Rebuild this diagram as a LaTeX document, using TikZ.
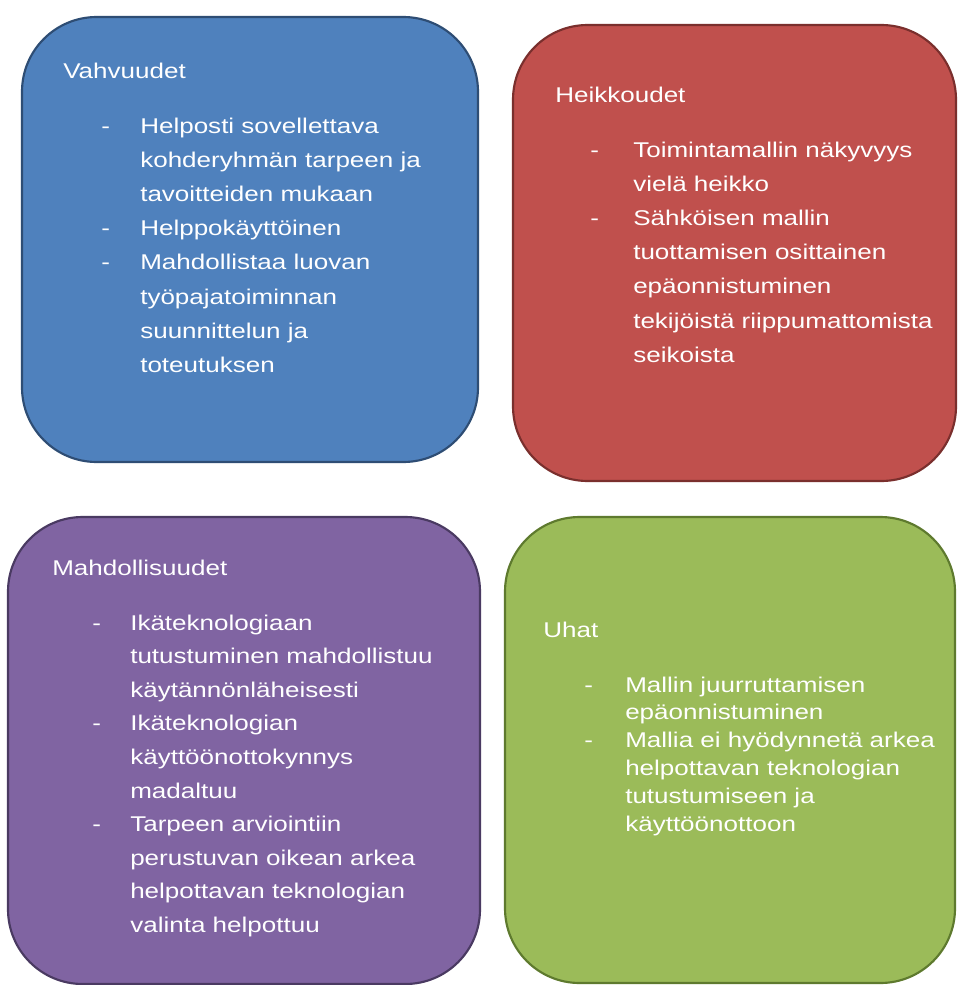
\documentclass[tikz,border=0pt]{standalone}
\usepackage{fontspec}
\setmainfont{Liberation Sans}[FakeStretch=1.22]
\begin{document}
\begin{tikzpicture}[x=0.75pt,y=-0.75pt,
  card/.style={line width=1.6pt, rounded corners=56pt},
  lbl/.style={anchor=base west, inner sep=0pt, text=white, font=\fontsize{16}{19}\selectfont},
]
\definecolor{sBlue}{HTML}{4F81BD}\definecolor{sBlueD}{HTML}{2E4D74}
\definecolor{sRed}{HTML}{C0504D}\definecolor{sRedD}{HTML}{7A2F2D}
\definecolor{sPurple}{HTML}{8064A2}\definecolor{sPurpleD}{HTML}{4A3A62}
\definecolor{sGreen}{HTML}{9BBB59}\definecolor{sGreenD}{HTML}{5E7A2E}
\path[use as bounding box, fill=white] (0,0) rectangle (958,985);

% four quadrant cards
\draw[card, fill=sBlue, draw=sBlueD] (22,17) rectangle (478,462);
\draw[card, fill=sRed, draw=sRedD] (513,25) rectangle (956,481);
\draw[card, fill=sPurple, draw=sPurpleD] (8,517) rectangle (480,984);
\draw[card, fill=sGreen, draw=sGreenD] (505,517) rectangle (955,983);

% Vahvuudet
\node[lbl] (vt) at (63,78) {Vahvuudet};
\foreach \yy in {133,235.6,269.8} \node[lbl] at (101,\yy) {-};
\foreach \yy/\tx [count=\i] in {133/Helposti sovellettava,
    167.2/kohderyhmän tarpeen ja, 201.4/tavoitteiden mukaan,
    235.6/Helppokäyttöinen, 269.8/Mahdollistaa luovan,
    304/työpajatoiminnan, 338.2/suunnittelun ja, 372.4/toteutuksen}
  \node[lbl] (v\i) at (140,\yy) {\tx};

% Heikkoudet
\node[lbl] (ht) at (555,102) {Heikkoudet};
\foreach \yy in {157,225.4} \node[lbl] at (590,\yy) {-};
\foreach \yy/\tx [count=\i] in {157/Toimintamallin näkyvyys,
    191.2/vielä heikko, 225.4/Sähköisen mallin,
    259.6/tuottamisen osittainen, 293.8/epäonnistuminen,
    328/tekijöistä riippumattomista, 362.2/seikoista}
  \node[lbl] (h\i) at (633,\yy) {\tx};

% Mahdollisuudet
\node[lbl] (mt) at (52,575) {Mahdollisuudet};
\foreach \yy in {630,730.8,831.6} \node[lbl] at (92,\yy) {-};
\foreach \yy/\tx [count=\i] in {630/Ikäteknologiaan,
    663.6/tutustuminen mahdollistuu, 697.2/käytännönläheisesti,
    730.8/Ikäteknologian, 764.4/käyttöönottokynnys, 798/madaltuu,
    831.6/Tarpeen arviointiin, 865.2/perustuvan oikean arkea,
    898.8/helpottavan teknologian, 932.4/valinta helpottuu}
  \node[lbl] (m\i) at (130,\yy) {\tx};

% Uhat
\node[lbl] (ut) at (543,637) {Uhat};
\foreach \yy in {692,747.6} \node[lbl] at (584,\yy) {-};
\foreach \yy/\tx [count=\i] in {692/Mallin juurruttamisen,
    719.8/epäonnistuminen, 747.6/Mallia ei hyödynnetä arkea,
    775.4/helpottavan teknologian, 803.2/tutustumiseen ja,
    831/käyttöönottoon}
  \node[lbl] (u\i) at (625,\yy) {\tx};
\end{tikzpicture}
\end{document}
